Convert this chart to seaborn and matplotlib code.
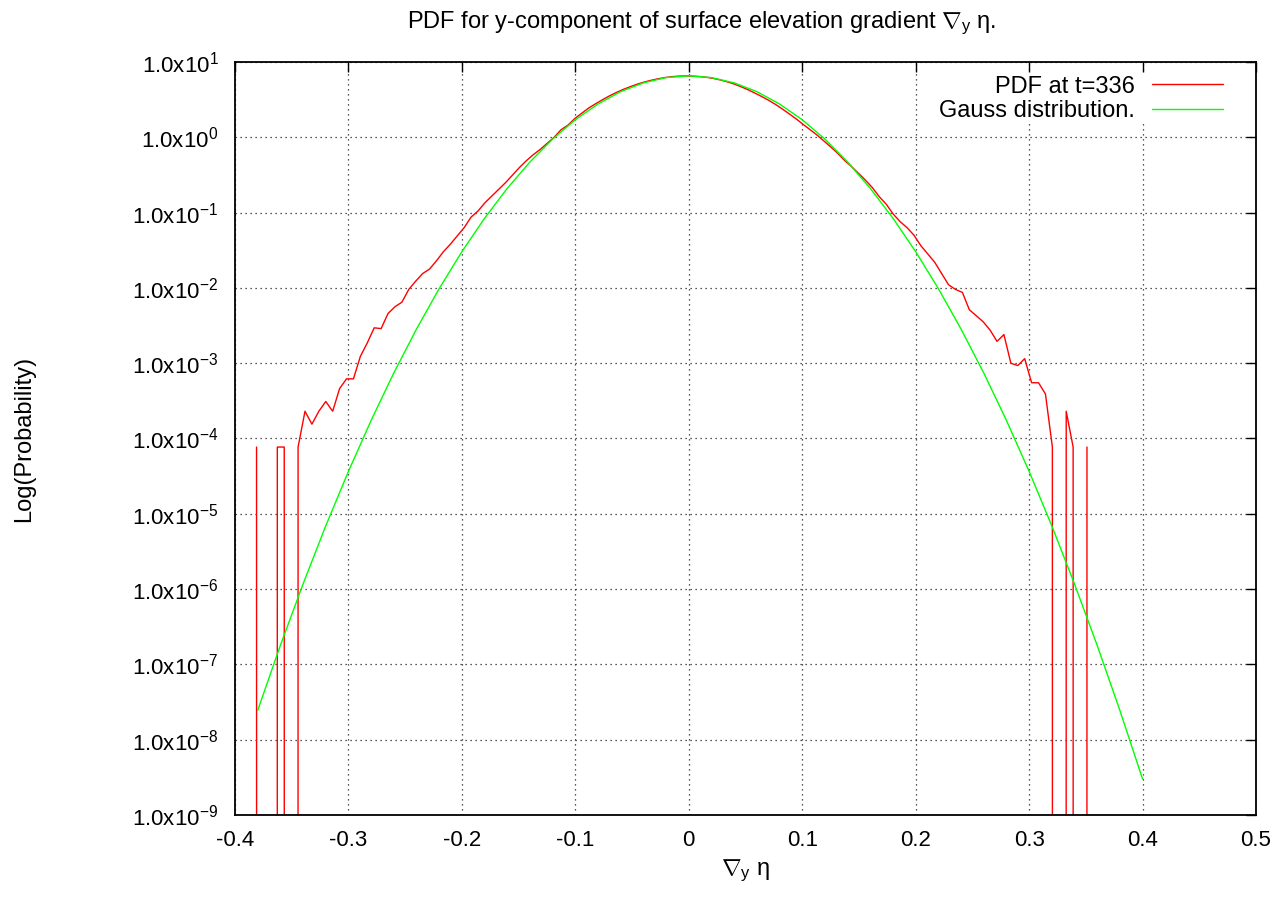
import matplotlib
matplotlib.use("Agg")
import matplotlib.pyplot as plt
import numpy as np
import pandas as pd
import seaborn as sns
from matplotlib.ticker import FixedLocator, FuncFormatter, NullLocator

# ---------------- data ----------------
# histogram bin centres of the measured PDF
pdf_x = [
    -0.3810, -0.3749, -0.3688, -0.3627, -0.3566, -0.3505, -0.3444, -0.3383, -0.3322, -0.3261,
    -0.3200, -0.3139, -0.3078, -0.3017, -0.2956, -0.2895, -0.2834, -0.2773, -0.2712, -0.2651,
    -0.2590, -0.2529, -0.2468, -0.2407, -0.2346, -0.2285, -0.2224, -0.2163, -0.2102, -0.2041,
    -0.1980, -0.1919, -0.1858, -0.1797, -0.1736, -0.1675, -0.1614, -0.1553, -0.1492, -0.1431,
    -0.1370, -0.1309, -0.1248, -0.1187, -0.1126, -0.1065, -0.1004, -0.0943, -0.0882, -0.0821,
    -0.0760, -0.0699, -0.0638, -0.0577, -0.0516, -0.0455, -0.0394, -0.0333, -0.0272, -0.0211,
    -0.0150, -0.0089, -0.0028, 0.0033, 0.0094, 0.0155, 0.0216, 0.0277, 0.0338, 0.0399,
    0.0460, 0.0521, 0.0582, 0.0643, 0.0704, 0.0765, 0.0826, 0.0887, 0.0948, 0.1009,
    0.1070, 0.1131, 0.1192, 0.1253, 0.1314, 0.1375, 0.1436, 0.1497, 0.1558, 0.1619,
    0.1680, 0.1741, 0.1802, 0.1863, 0.1924, 0.1985, 0.2046, 0.2107, 0.2168, 0.2229,
    0.2290, 0.2351, 0.2412, 0.2473, 0.2534, 0.2595, 0.2656, 0.2717, 0.2778, 0.2839,
    0.2900, 0.2961, 0.3022, 0.3083, 0.3144, 0.3205, 0.3266, 0.3327, 0.3388, 0.3449,
    0.3510,
]
# measured PDF at t=336 (zero = empty bin)
pdf_t336 = [
    7.7e-5, 0.0, 0.0, 7.7e-5, 7.7e-5, 0.0, 7.7e-5, 2.3e-4, 1.55e-4, 2.3e-4,
    3.1e-4, 2.3e-4, 4.6e-4, 6.2e-4, 6.2e-4, 1.23e-3, 1.86e-3, 2.95e-3, 2.88e-3, 4.57e-3,
    5.62e-3, 6.46e-3, 9.55e-3, 1.23e-2, 1.55e-2, 1.78e-2, 2.29e-2, 3.02e-2, 3.80e-2, 4.90e-2,
    6.31e-2, 8.71e-2, 0.105, 0.135, 0.166, 0.204, 0.251, 0.316, 0.398, 0.490,
    0.589, 0.692, 0.832, 1.00, 1.26, 1.45, 1.78, 2.09, 2.45, 2.79,
    3.16, 3.55, 3.94, 4.33, 4.70, 5.07, 5.41, 5.71, 5.98, 6.21,
    6.38, 6.49, 6.53, 6.50, 6.41, 6.27, 6.05, 5.78, 5.46, 5.11,
    4.70, 4.29, 3.87, 3.48, 3.10, 2.73, 2.37, 2.04, 1.75, 1.48,
    1.26, 1.07, 0.891, 0.741, 0.610, 0.490, 0.407, 0.331, 0.269, 0.214,
    0.162, 0.129, 9.55e-2, 7.59e-2, 6.31e-2, 5.01e-2, 3.63e-2, 2.82e-2, 2.19e-2, 1.55e-2,
    1.10e-2, 9.55e-3, 8.71e-3, 5.13e-3, 4.27e-3, 3.55e-3, 2.75e-3, 1.95e-3, 2.40e-3, 1.0e-3,
    9.3e-4, 1.15e-3, 5.5e-4, 5.5e-4, 3.9e-4, 7.7e-5, 0.0, 2.3e-4, 7.7e-5, 0.0,
    7.7e-5,
]
# Gauss distribution curve
gauss_x = [
    -0.38, -0.36, -0.34, -0.32, -0.30, -0.28, -0.26, -0.24, -0.22, -0.20,
    -0.18, -0.16, -0.14, -0.12, -0.10, -0.08, -0.06, -0.04, -0.02, 0.00,
    0.02, 0.04, 0.06, 0.08, 0.10, 0.12, 0.14, 0.16, 0.18, 0.20,
    0.22, 0.24, 0.26, 0.28, 0.30, 0.32, 0.34, 0.36, 0.38, 0.40,
]
gauss_pdf = [
    2.45e-8, 1.79e-7, 1.17e-6, 6.92e-6, 3.66e-5, 1.74e-4, 7.43e-4, 2.84e-3, 9.79e-3, 3.03e-2,
    8.41e-2, 0.210, 0.470, 0.946, 1.71, 2.77, 4.04, 5.28, 6.21, 6.55,
    6.21, 5.28, 4.04, 2.77, 1.71, 0.946, 0.470, 0.210, 8.41e-2, 3.03e-2,
    9.79e-3, 2.84e-3, 7.43e-4, 1.74e-4, 3.66e-5, 6.92e-6, 1.17e-6, 1.79e-7, 2.45e-8, 3.01e-9,
]
x_ticks = [-0.4, -0.3, -0.2, -0.1, 0.0, 0.1, 0.2, 0.3, 0.4, 0.5]
x_tick_labels = ["-0.4", "-0.3", "-0.2", "-0.1", "0", "0.1", "0.2", "0.3", "0.4", "0.5"]
y_exponents = [1, 0, -1, -2, -3, -4, -5, -6, -7, -8, -9]

title_text = r"PDF for y-component of surface elevation gradient $\nabla_{\mathrm{y}}\ \mathrm{\eta}$."
x_label = r"$\nabla_{\mathrm{y}}\ \mathrm{\eta}$"
y_label = "Log(Probability)"
label_red = "PDF at t=336"
label_green = "Gauss distribution."

# ---------------- style ----------------
sns.set_theme(style="white")
plt.rcParams["font.family"] = ["Liberation Sans", "DejaVu Sans"]
plt.rcParams["mathtext.fontset"] = "custom"
plt.rcParams["mathtext.rm"] = "Liberation Sans"
plt.rcParams["mathtext.it"] = "Liberation Sans:italic"
plt.rcParams["mathtext.sf"] = "Liberation Sans"
plt.rcParams["axes.unicode_minus"] = False
plt.rcParams["text.color"] = "black"
plt.rcParams["axes.labelcolor"] = "black"
plt.rcParams["xtick.color"] = "black"
plt.rcParams["ytick.color"] = "black"

fig = plt.figure(figsize=(12.81, 8.99), dpi=100)
ax = fig.add_axes([235 / 1281, 1 - 815 / 899, 1021 / 1281, 753 / 899])

df_red = pd.DataFrame({"x": pdf_x, "p": pdf_t336})
df_green = pd.DataFrame({"x": gauss_x, "p": gauss_pdf})

sns.lineplot(data=df_red, x="x", y="p", ax=ax, color="#ff0000", lw=1.0,
             estimator=None, sort=False, label=label_red)
sns.lineplot(data=df_green, x="x", y="p", ax=ax, color="#00ff00", lw=1.0,
             estimator=None, sort=False, label=label_green)

ax.set_yscale("log")
ax.set_xlim(-0.4, 0.5)
ax.set_ylim(1e-9, 1e1)

ax.xaxis.set_major_locator(FixedLocator(x_ticks))
ax.set_xticklabels(x_tick_labels)
ax.yaxis.set_major_locator(FixedLocator([10.0 ** e for e in y_exponents]))
ax.yaxis.set_minor_locator(NullLocator())
ax.yaxis.set_major_formatter(FuncFormatter(
    lambda v, pos: r"$\mathregular{1.0x10^{%d}}$" % int(round(np.log10(v)))))

ax.tick_params(axis="both", which="major", direction="in", length=7, width=1.0,
               top=True, right=True, labelsize=16, colors="black")
ax.tick_params(axis="y", pad=12)
ax.tick_params(axis="x", pad=11)

for s in ax.spines.values():
    s.set_color("black")
    s.set_linewidth(1.3)

ax.grid(True, which="major", color="#222222", linestyle=(0, (1, 3)), linewidth=0.9)
ax.set_axisbelow(True)

ax.set_xlabel(x_label, fontsize=17)
ax.set_ylabel(y_label, fontsize=17)
ax.xaxis.set_label_coords(0.5, -0.057)
ax.yaxis.set_label_coords(-0.196, 0.5)

fig.text(702 / 1281, 1 - 23 / 899, title_text, ha="center", va="center", fontsize=17)

leg = ax.legend(loc="upper right", bbox_to_anchor=(0.9696, 0.985), frameon=True,
                facecolor="white", edgecolor="none", framealpha=1, fancybox=False,
                borderpad=0.1, borderaxespad=0.0, markerfirst=False, handlelength=3.0,
                handletextpad=0.7, labelspacing=0.1, fontsize=17)

fig.savefig("out.png", dpi=100, facecolor="white")
